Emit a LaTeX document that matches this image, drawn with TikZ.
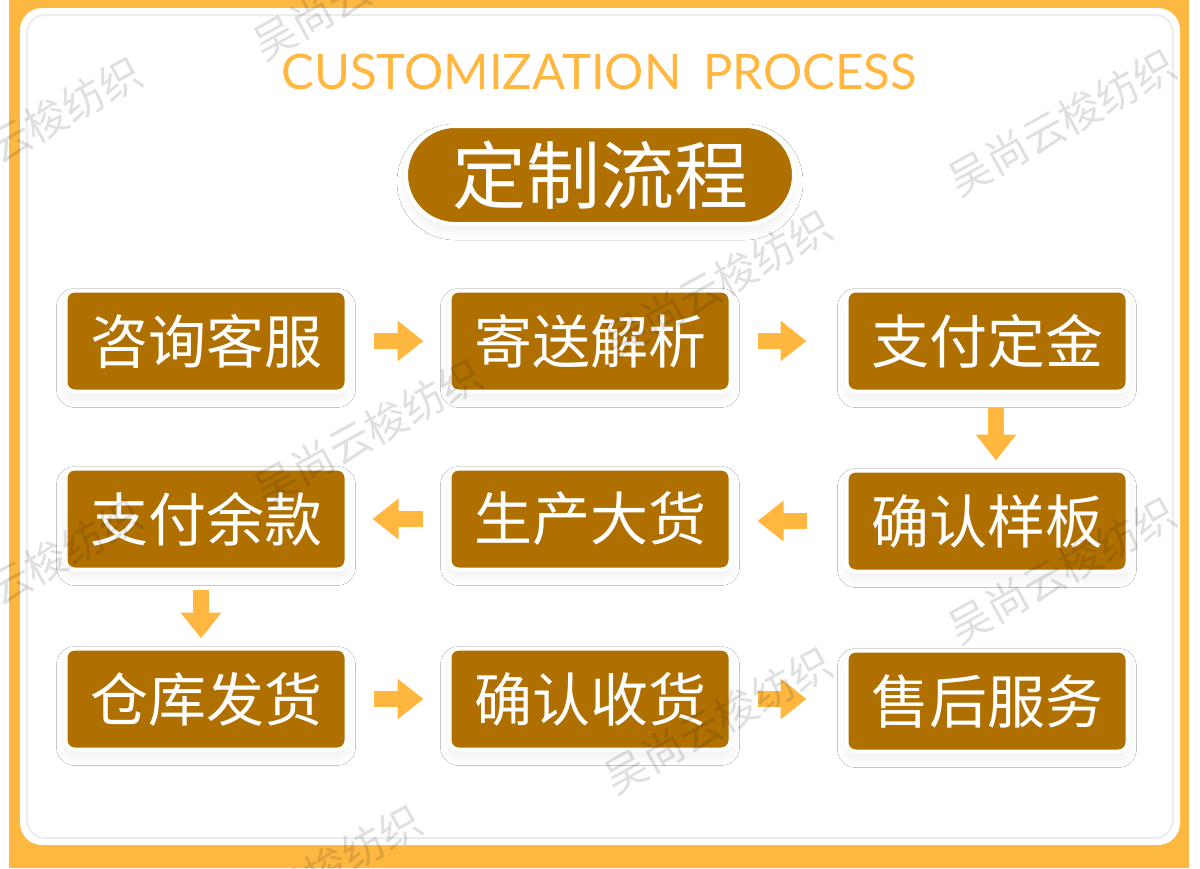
\documentclass[tikz,border=0pt]{standalone}
\usepackage{fontspec}
\setmainfont{Noto Sans CJK SC}
\newfontfamily\titlefont{Lato}
\usetikzlibrary{arrows.meta,shadows.blur}
\definecolor{bgorange}{HTML}{FDB842}
\definecolor{brownbox}{HTML}{B07000}
\definecolor{arrorange}{HTML}{FFB740}
\begin{document}
\begin{tikzpicture}[x=1pt,y=-1pt,
  stepbox/.style={rectangle, rounded corners=9pt, fill=brownbox, draw=white, line width=4pt,
    minimum width=281pt, minimum height=101pt, inner sep=0pt, text=white,
    font=\fontsize{58}{62}\selectfont,
    blur shadow={shadow xshift=0pt, shadow yshift=-7pt, shadow blur radius=9pt, shadow opacity=6}},
  pill/.style={rectangle, rounded corners=49pt, fill=brownbox, draw=white, line width=4pt,
    minimum width=388pt, minimum height=98pt, inner sep=0pt, text=white,
    font=\fontsize{74}{78}\selectfont,
    blur shadow={shadow xshift=0pt, shadow yshift=-7pt, shadow blur radius=9pt, shadow opacity=6}},
  flowarrow/.style={draw=arrorange, line width=16pt, line cap=butt,
    -{Triangle[width=39pt,length=26pt]}},
  wm/.style={text=black, text opacity=0.12, font=\fontsize{42}{44}\selectfont, rotate=29, inner sep=0pt}
]
\useasboundingbox (0,0) rectangle (1200,868);
\fill[white] (0,0) rectangle (1200,868);
\fill[bgorange] (9,0) rectangle (1189,868);
\fill[white, rounded corners=22pt] (20,8) rectangle (1180,845);
\draw[black!7, line width=2pt, rounded corners=18pt] (27,15) rectangle (1173,838);

\node[text=arrorange, font=\titlefont\fontsize{49}{52}\selectfont] (title) at (599,72) {CUSTOMIZATION\hspace{22pt}PROCESS};
\node[pill] (head) at (600,175) {定制流程};

\node[stepbox] (s1) at (206,341) {咨询客服};
\node[stepbox] (s2) at (590,341) {寄送解析};
\node[stepbox] (s3) at (987,341) {支付定金};
\node[stepbox] (s4) at (987,521) {确认样板};
\node[stepbox] (s5) at (590,519) {生产大货};
\node[stepbox] (s6) at (206,519) {支付余款};
\node[stepbox] (s7) at (206,699) {仓库发货};
\node[stepbox] (s8) at (590,699) {确认收货};
\node[stepbox] (s9) at (987,701) {售后服务};

\draw[flowarrow, shorten <=25pt, shorten >=24pt] (s1.east) -- (s1.east -| s2.west);
\draw[flowarrow, shorten <=25pt, shorten >=38pt] (s2.east) -- (s2.east -| s3.west);
\draw[flowarrow, shorten <=14pt, shorten >=8pt] (s3.south -| 996,0) -- (s4.north -| 996,0);
\draw[flowarrow, shorten <=38pt, shorten >=25pt] (s4.west) -- (s4.west -| s5.east);
\draw[flowarrow, shorten <=25pt, shorten >=24pt] (s5.west) -- (s5.west -| s6.east);
\draw[flowarrow, shorten <=18pt, shorten >=8pt] (s6.south -| 201,0) -- (s7.north -| 201,0);
\draw[flowarrow, shorten <=25pt, shorten >=24pt] (s7.east) -- (s7.east -| s8.west);
\draw[flowarrow, shorten <=25pt, shorten >=38pt] (s8.east) -- (s8.east -| s9.west);

\node[wm] (w1) at (28,130) {吴尚云梭纺织};
\node[wm] (w2) at (367,-14) {吴尚云梭纺织};
\node[wm] (w3) at (1062,122) {吴尚云梭纺织};
\node[wm] (w4) at (718,283) {吴尚云梭纺织};
\node[wm] (w5) at (368,432) {吴尚云梭纺织};
\node[wm] (w6) at (1062,570) {吴尚云梭纺织};
\node[wm] (w7) at (28,572) {吴尚云梭纺织};
\node[wm] (w8) at (718,720) {吴尚云梭纺织};
\node[wm] (w9) at (308,878) {吴尚云梭纺织};
\end{tikzpicture}
\end{document}
